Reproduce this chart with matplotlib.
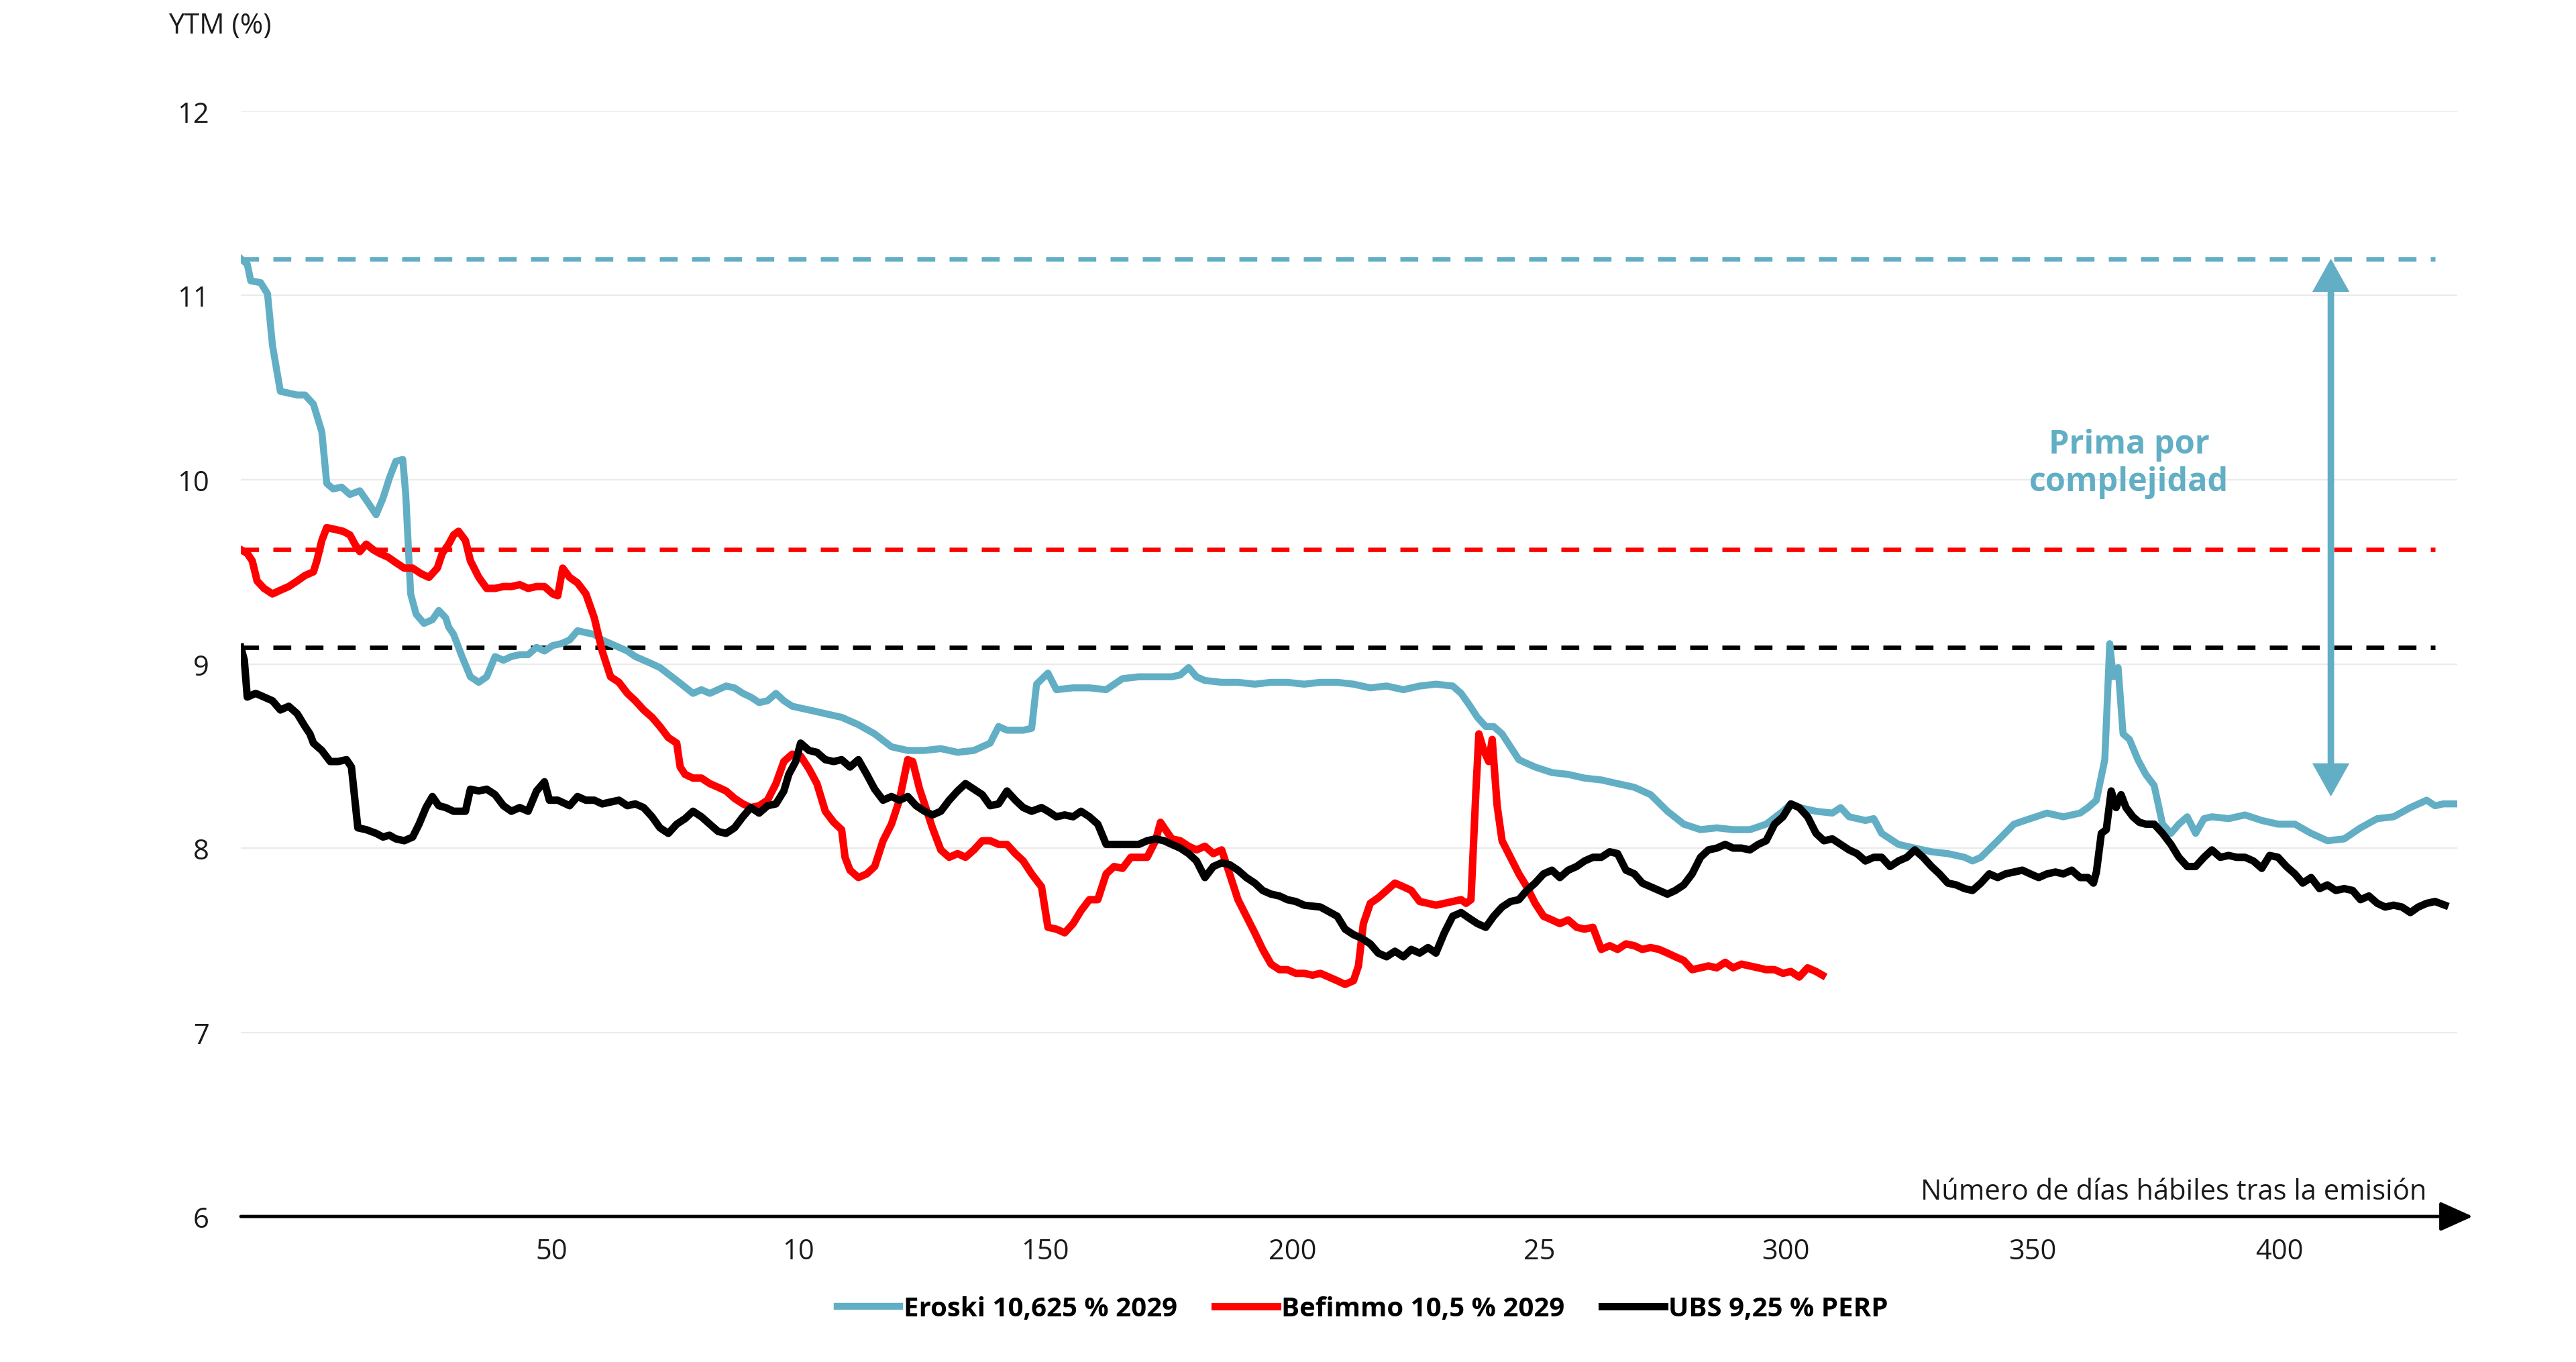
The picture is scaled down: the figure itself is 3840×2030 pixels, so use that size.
import matplotlib
matplotlib.use("Agg")
import matplotlib.pyplot as plt
from matplotlib.lines import Line2D
from matplotlib.patches import FancyArrowPatch

plt.rcParams['font.family'] = ['Open Sans', 'DejaVu Sans']

# ---------------- data (business days since issue, YTM %) ----------------
eroski_days = [0, 1.3, 2.0, 4.0, 5.4, 6.4, 8.0, 9.7, 11.4, 13.0, 14.7, 16.4, 17.4, 18.7, 20.4, 22.1,
               24.1, 25.4, 27.4, 28.8, 30.1, 31.4, 32.8, 33.4, 34.4, 35.5, 37.1, 38.8, 40.1, 41.5, 42.1,
               43.1, 44.8, 46.5, 48.2, 49.8, 51.5, 53.2, 54.8, 56.5, 58.2, 59.9, 61.5, 63.2, 64.9, 66.6,
               68.2, 69.9, 71.6, 73.2, 74.9, 76.6, 78.3, 79.9, 81.6, 83.3, 84.9, 88.3, 91.6, 93.3, 95.0,
               98.3, 100.0, 101.7, 103.3, 105.0, 106.7, 108.4, 110.0, 111.7, 115.1, 118.4, 121.7, 125.1,
               128.4, 131.8, 135.1, 138.5, 141.8, 145.2, 148.5, 151.8, 153.5, 155.2, 158.5, 160.2, 161.2,
               163.5, 165.2, 168.6, 171.9, 175.3, 178.6, 181.9, 185.3, 188.6, 190.3, 192.0, 193.6, 195.3,
               198.7, 202.0, 205.4, 208.7, 212.0, 215.4, 218.7, 222.1, 225.4, 228.8, 232.1, 235.5, 238.8,
               242.1, 245.5, 247.2, 248.8, 250.5, 252.2, 253.8, 255.5, 257.2, 258.9, 260.5, 262.2, 265.6,
               268.9, 272.2, 275.6, 278.9, 282.3, 285.6, 289.0, 292.3, 295.7, 299.0, 302.3, 305.7, 309.0,
               312.4, 314.0, 315.7, 319.1, 322.4, 324.1, 325.8, 329.1, 330.8, 332.4, 335.8, 339.1, 342.5,
               345.8, 349.2, 350.8, 352.5, 355.9, 359.2, 362.5, 365.9, 369.2, 372.6, 374.2, 375.9, 377.6,
               378.6, 379.3, 380.3, 381.3, 382.6, 384.3, 385.9, 387.6, 389.3, 391.0, 392.6, 394.3, 396.0,
               397.7, 399.3, 402.7, 406.0, 409.4, 412.7, 416.1, 419.4, 422.7, 426.1, 429.4, 432.8, 436.1,
               439.5, 442.8, 444.5, 446.2, 448.5]
eroski_ytm = [11.20, 11.17, 11.08, 11.07, 11.01, 10.73, 10.48, 10.47, 10.46, 10.46, 10.41, 10.26, 9.98, 9.95, 9.96, 9.92,
              9.94, 9.89, 9.81, 9.90, 10.01, 10.10, 10.11, 9.92, 9.38, 9.27, 9.22, 9.24, 9.29, 9.25, 9.20,
              9.16, 9.04, 8.93, 8.90, 8.93, 9.04, 9.02, 9.04, 9.05, 9.05, 9.09, 9.07, 9.10, 9.11, 9.13,
              9.18, 9.17, 9.16, 9.13, 9.11, 9.09, 9.07, 9.04, 9.02, 9.00, 8.98, 8.91, 8.84, 8.86, 8.84,
              8.88, 8.87, 8.84, 8.82, 8.79, 8.80, 8.84, 8.80, 8.77, 8.75, 8.73, 8.71, 8.67,
              8.62, 8.55, 8.53, 8.53, 8.54, 8.52, 8.53, 8.57, 8.66, 8.64, 8.64, 8.65, 8.89,
              8.95, 8.86, 8.87, 8.87, 8.86, 8.92, 8.93, 8.93, 8.93, 8.94, 8.98, 8.93, 8.91,
              8.90, 8.90, 8.89, 8.90, 8.90, 8.89, 8.90, 8.90, 8.89, 8.87, 8.88, 8.86, 8.88,
              8.89, 8.88, 8.84, 8.78, 8.71, 8.66, 8.66, 8.62, 8.55, 8.48, 8.46, 8.44, 8.41,
              8.40, 8.38, 8.37, 8.35, 8.33, 8.29, 8.20, 8.13, 8.10, 8.11, 8.10, 8.10, 8.13,
              8.20, 8.24, 8.22, 8.20, 8.19, 8.22, 8.17, 8.15, 8.16, 8.08, 8.02, 8.00, 7.98,
              7.97, 7.95, 7.93, 7.95, 8.04, 8.13, 8.16, 8.19, 8.17, 8.19, 8.22, 8.26, 8.48,
              9.11, 8.93, 8.98, 8.62, 8.59, 8.48, 8.40, 8.34, 8.13, 8.08, 8.13, 8.17, 8.08,
              8.16, 8.17, 8.16, 8.18, 8.15, 8.13, 8.13, 8.08, 8.04, 8.05, 8.11, 8.16, 8.17,
              8.22, 8.26, 8.23, 8.24, 8.24]

befimmo_days = [0, 1.3, 2.3, 3.3, 4.7, 6.4, 8.0, 9.7, 11.4, 13.0, 14.7, 15.4, 16.4, 17.4, 19.1, 20.7,
                22.1, 23.1, 24.1, 25.4, 26.8, 28.1, 29.8, 31.4, 33.1, 34.8, 36.5, 38.1, 39.8, 40.8, 42.1,
                43.1, 44.1, 45.5, 46.5, 48.2, 49.8, 51.5, 53.2, 54.8, 56.5, 58.2, 59.9, 61.5, 63.2, 64.2,
                65.2, 66.6, 68.2, 69.9, 71.6, 73.2, 74.9, 76.6, 78.3, 79.9, 81.6, 83.3, 84.9, 86.6, 88.3,
                89.0, 90.0, 91.6, 93.3, 95.0, 96.7, 98.3, 100.0, 101.7, 103.3, 105.0, 106.7, 108.4, 110.0,
                111.7, 113.4, 115.1, 116.7, 118.4, 120.1, 121.7, 122.4, 123.4, 125.1, 126.8, 128.4, 130.1,
                131.8, 133.4, 135.1, 136.1, 137.5, 138.5, 140.1, 141.8, 143.5, 145.2, 146.8, 148.5, 150.2,
                151.8, 153.5, 155.2, 156.9, 158.5, 160.2, 162.2, 163.5, 165.2, 166.9, 168.6, 170.2, 171.9,
                173.6, 175.3, 176.9, 178.6, 180.3, 181.9, 183.6, 185.3, 186.3, 187.3, 188.6, 190.3, 192.0,
                193.6, 195.3, 197.0, 198.7, 200.3, 202.0, 203.7, 205.4, 207.0, 208.7, 210.4, 212.0, 213.7,
                215.4, 217.1, 218.7, 220.4, 222.1, 223.7, 225.4, 226.4, 227.4, 228.8, 230.4, 232.1, 233.8,
                235.5, 237.1, 238.8, 240.5, 242.1, 243.8, 245.5, 247.2, 248.2, 249.2, 250.2, 250.8, 251.8,
                252.8, 253.5, 254.5, 255.5, 257.2, 258.9, 260.5, 262.2, 263.9, 265.6, 267.2, 268.9, 270.6,
                272.2, 273.9, 275.6, 277.3, 278.9, 280.6, 282.3, 283.9, 285.6, 287.3, 289.0, 290.6, 292.3,
                294.0, 295.7, 297.3, 299.0, 300.7, 302.3, 304.0, 305.7, 307.4, 309.0, 310.7, 312.4, 314.0,
                315.7, 317.4, 319.1, 320.4]
befimmo_ytm = [9.62, 9.60, 9.56, 9.45, 9.41, 9.38, 9.40, 9.42, 9.45, 9.48, 9.50, 9.56, 9.67, 9.74, 9.73, 9.72,
               9.70, 9.65, 9.61, 9.65, 9.62, 9.60, 9.58, 9.55, 9.52, 9.52, 9.49, 9.47, 9.52, 9.60, 9.65,
               9.70, 9.72, 9.67, 9.56, 9.47, 9.41, 9.41, 9.42, 9.42, 9.43, 9.41, 9.42, 9.42, 9.38, 9.37,
               9.52, 9.47, 9.44, 9.38, 9.25, 9.07, 8.93, 8.90, 8.84, 8.80, 8.75, 8.71, 8.66, 8.60, 8.57,
               8.44, 8.40, 8.38, 8.38, 8.35, 8.33, 8.31, 8.27, 8.24, 8.22, 8.23, 8.26, 8.35, 8.47,
               8.51, 8.50, 8.43, 8.35, 8.20, 8.14, 8.10, 7.95, 7.88, 7.84, 7.86, 7.90, 8.04,
               8.13, 8.26, 8.48, 8.47, 8.32, 8.24, 8.11, 7.99, 7.95, 7.97, 7.95, 7.99, 8.04,
               8.04, 8.02, 8.02, 7.97, 7.93, 7.86, 7.79, 7.57, 7.56, 7.54, 7.59, 7.66, 7.72,
               7.72, 7.86, 7.90, 7.89, 7.95, 7.95, 7.95, 8.04, 8.14, 8.10, 8.05, 8.04, 8.01,
               7.99, 8.01, 7.97, 7.99, 7.86, 7.72, 7.63, 7.54, 7.45, 7.37, 7.34, 7.34, 7.32,
               7.32, 7.31, 7.32, 7.30, 7.28, 7.26, 7.28, 7.36, 7.59, 7.70, 7.73, 7.77, 7.81,
               7.79, 7.77, 7.71, 7.70, 7.69, 7.70, 7.71, 7.72, 7.70, 7.72, 8.31, 8.62, 8.53,
               8.47, 8.59, 8.23, 8.04, 7.95, 7.86, 7.79, 7.70, 7.63, 7.61, 7.59, 7.61, 7.57,
               7.56, 7.57, 7.45, 7.47, 7.45, 7.48, 7.47, 7.45, 7.46, 7.45, 7.43, 7.41, 7.39,
               7.34, 7.35, 7.36, 7.35, 7.38, 7.35, 7.37, 7.36, 7.35, 7.34, 7.34, 7.32, 7.33,
               7.30, 7.35, 7.33, 7.31]

ubs_days = [0, 0.7, 1.3, 3.0, 4.7, 6.4, 8.0, 9.7, 11.4, 13.0, 14.0, 14.7, 16.4, 18.1, 19.7, 21.4,
            22.4, 23.7, 25.4, 27.4, 28.8, 30.1, 31.4, 33.1, 34.8, 36.1, 37.5, 38.8, 40.1, 41.5, 43.1,
            45.5, 46.5, 48.2, 49.8, 51.5, 53.2, 54.8, 56.5, 58.2, 59.9, 61.5, 62.5, 64.2, 66.6, 68.2,
            69.9, 71.6, 73.2, 74.9, 76.6, 78.3, 79.9, 81.6, 83.3, 84.9, 86.6, 88.3, 90.0, 91.6, 93.3,
            95.0, 96.7, 98.3, 100.0, 101.7, 103.3, 105.0, 106.7, 108.4, 110.0, 111.0, 112.4, 113.4,
            115.1, 116.7, 118.4, 120.1, 121.7, 123.4, 125.1, 126.8, 128.4, 130.1, 131.8, 133.4, 135.1,
            136.8, 138.5, 140.1, 141.8, 143.5, 145.2, 146.8, 148.5, 150.2, 151.8, 153.5, 155.2, 156.9,
            158.5, 160.2, 162.2, 163.5, 165.2, 166.9, 168.6, 170.2, 171.9, 173.6, 175.3, 178.6, 181.9,
            183.6, 185.3, 187.0, 188.6, 190.3, 192.0, 193.6, 195.3, 197.0, 198.7, 200.3, 202.0, 203.7,
            205.4, 207.0, 208.7, 210.4, 212.0, 213.7, 215.4, 218.7, 222.1, 223.7, 225.4, 227.1, 228.8,
            230.4, 232.1, 233.8, 235.5, 237.1, 238.8, 240.5, 242.1, 243.8, 245.5, 247.2, 248.8, 250.5,
            252.2, 253.8, 255.5, 257.2, 258.9, 260.5, 262.2, 263.9, 265.6, 267.2, 268.9, 270.6, 272.2,
            273.9, 275.6, 277.3, 278.9, 280.6, 282.3, 283.9, 285.6, 287.3, 289.0, 290.6, 292.3, 294.0,
            295.7, 297.3, 299.0, 300.7, 302.3, 304.0, 305.7, 307.4, 309.0, 310.7, 312.4, 314.0, 315.7,
            317.4, 319.1, 320.7, 322.4, 324.1, 325.8, 327.4, 329.1, 330.8, 332.4, 334.1, 335.8, 337.5,
            339.1, 340.8, 342.5, 344.1, 345.8, 347.5, 349.2, 350.8, 352.5, 354.2, 355.9, 357.5, 359.2,
            360.9, 362.5, 364.2, 365.9, 367.6, 369.2, 370.9, 372.6, 374.2, 375.3, 375.9, 376.9, 377.9,
            378.9, 379.9, 380.9, 381.9, 383.3, 384.6, 385.9, 387.6, 389.3, 391.0, 392.6, 394.3, 396.0,
            397.7, 399.3, 401.0, 402.7, 404.3, 406.0, 407.7, 409.4, 411.0, 412.7, 414.4, 416.1, 417.7,
            419.4, 421.1, 422.7, 424.4, 426.1, 427.8, 429.4, 431.1, 432.8, 434.4, 436.1, 437.8, 439.5,
            441.1, 442.8, 444.5, 446.5]
ubs_ytm = [9.09, 9.02, 8.82, 8.84, 8.82, 8.80, 8.75, 8.77, 8.73, 8.66, 8.62, 8.57, 8.53, 8.47, 8.47, 8.48,
           8.44, 8.11, 8.10, 8.08, 8.06, 8.07, 8.05, 8.04, 8.06, 8.13, 8.22, 8.28, 8.23, 8.22, 8.20,
           8.20, 8.32, 8.31, 8.32, 8.29, 8.23, 8.20, 8.22, 8.20, 8.31, 8.36, 8.26, 8.26, 8.23, 8.28,
           8.26, 8.26, 8.24, 8.25, 8.26, 8.23, 8.24, 8.22, 8.17, 8.11, 8.08, 8.13, 8.16, 8.20, 8.17,
           8.13, 8.09, 8.08, 8.11, 8.17, 8.22, 8.19, 8.23, 8.24, 8.31, 8.40, 8.47, 8.57,
           8.53, 8.52, 8.48, 8.47, 8.48, 8.44, 8.48, 8.40, 8.32, 8.26, 8.28, 8.26, 8.28,
           8.23, 8.20, 8.18, 8.20, 8.26, 8.31, 8.35, 8.32, 8.29, 8.23, 8.24, 8.31, 8.26,
           8.22, 8.20, 8.22, 8.20, 8.17, 8.18, 8.17, 8.20, 8.17, 8.13, 8.02, 8.02, 8.02,
           8.04, 8.05, 8.04, 8.02, 8.00, 7.97, 7.93, 7.84, 7.90, 7.92, 7.91, 7.88, 7.84,
           7.81, 7.77, 7.75, 7.74, 7.72, 7.71, 7.69, 7.68, 7.63, 7.56, 7.53, 7.51, 7.48,
           7.43, 7.41, 7.44, 7.41, 7.45, 7.43, 7.46, 7.43, 7.54, 7.63, 7.65, 7.62, 7.59,
           7.57, 7.63, 7.68, 7.71, 7.72, 7.77, 7.81, 7.86, 7.88, 7.84, 7.88, 7.90, 7.93,
           7.95, 7.95, 7.98, 7.97, 7.88, 7.86, 7.81, 7.79, 7.77, 7.75, 7.77, 7.80, 7.86,
           7.95, 7.99, 8.00, 8.02, 8.00, 8.00, 7.99, 8.02, 8.04, 8.13, 8.17, 8.24, 8.22,
           8.17, 8.08, 8.04, 8.05, 8.02, 7.99, 7.97, 7.93, 7.95, 7.95, 7.90, 7.93, 7.95,
           7.99, 7.95, 7.90, 7.86, 7.81, 7.80, 7.78, 7.77, 7.81, 7.86, 7.84, 7.86, 7.87,
           7.88, 7.86, 7.84, 7.86, 7.87, 7.86, 7.88, 7.84, 7.84, 7.81, 7.87, 8.08, 8.10,
           8.31, 8.22, 8.29, 8.22, 8.17, 8.14, 8.13, 8.13, 8.08, 8.02, 7.95, 7.90, 7.90,
           7.95, 7.99, 7.95, 7.96, 7.95, 7.95, 7.93, 7.89, 7.96, 7.95, 7.90, 7.86, 7.81,
           7.84, 7.78, 7.80, 7.77, 7.78, 7.77, 7.72, 7.74, 7.70, 7.68, 7.69, 7.68, 7.65,
           7.68, 7.70, 7.71, 7.69]

# issue yields (dashed reference lines)
eroski_issue = 11.20
befimmo_issue = 9.62
ubs_issue = 9.09
issue_line_end = 444.5

# complexity premium arrow
premium_day = 423.4
premium_top = 11.20
premium_bottom = 8.28
premium_label = "Prima por\ncomplejidad"

series_names = ["Eroski 10,625 % 2029", "Befimmo 10,5 % 2029", "UBS 9,25 % PERP"]
y_ticks = [6, 7, 8, 9, 10, 11, 12]
x_tick_values = [50, 100, 150, 200, 250, 300, 350, 400]
x_tick_labels = ["50", "10", "150", "200", "25", "300", "350", "400"]
x_label_offset = 13  # labels sit 13 business days to the right in the original

TEAL = "#62AEC5"
RED = "#FF0000"
BLACK = "#000000"

fig = plt.figure(figsize=(38.4, 20.31), dpi=100)
ax = fig.add_axes([0.0935, 0.1068, 0.8604, 0.811])
ax.set_xlim(0, 449)
ax.set_ylim(6, 12)

for s in ax.spines.values():
    s.set_visible(False)

ax.set_yticks(y_ticks)
ax.set_yticklabels([str(v) for v in y_ticks])
ax.yaxis.grid(True, color="#EAEAEA", lw=1.6)
ax.set_axisbelow(True)
ax.set_xticks([v + x_label_offset for v in x_tick_values])
ax.set_xticklabels(x_tick_labels)
ax.tick_params(axis="both", length=0, labelsize=30, colors="#1a1a1a")
ax.tick_params(axis="y", pad=34)
ax.tick_params(axis="x", pad=22)

# dashed issue-yield lines
dash_kw = dict(lw=4.8, dashes=(4.0, 3.2), zorder=2)
ax.plot([0, issue_line_end], [eroski_issue, eroski_issue], color=TEAL, **dash_kw)
ax.plot([0, issue_line_end], [befimmo_issue, befimmo_issue], color=RED, **dash_kw)
ax.plot([0, issue_line_end], [ubs_issue, ubs_issue], color=BLACK, **dash_kw)

# premium arrow
arr = FancyArrowPatch((premium_day, premium_top), (premium_day, premium_bottom),
                      arrowstyle="<|-|>,head_length=1.25,head_width=0.7", mutation_scale=20,
                      color=TEAL, lw=7, shrinkA=0, shrinkB=0, joinstyle="miter", zorder=3)
ax.add_patch(arr)
ax.text(382.5, 10.09, premium_label, color=TEAL, fontsize=35, fontweight="bold",
        ha="center", va="center", linespacing=1.2, zorder=5)

# data lines
lw_teal, lw_other = 7.5, 8
ax.plot(eroski_days, eroski_ytm, color=TEAL, lw=lw_teal, zorder=4, solid_joinstyle="round")
ax.plot(befimmo_days, befimmo_ytm, color=RED, lw=lw_other, zorder=4, solid_joinstyle="round")
ax.plot(ubs_days, ubs_ytm, color=BLACK, lw=lw_other, zorder=4, solid_joinstyle="round")

# x axis with arrow
ax.annotate("", xy=(1.007, 0), xytext=(0, 0), xycoords="axes fraction",
            arrowprops=dict(arrowstyle="-|>,head_length=1.0,head_width=0.45", lw=3.5,
                            color="black", mutation_scale=30, shrinkA=0, shrinkB=0),
            annotation_clip=False)
ax.text(442.8, 6.135, "Número de días hábiles tras la emisión", fontsize=30, ha="right",
        va="center", color="#1a1a1a")

fig.text(0.0654, 0.9808, "YTM (%)", fontsize=30, ha="left", va="center", color="#1a1a1a")

handles = [Line2D([0], [0], color=c, lw=w) for c, w in ((TEAL, lw_teal), (RED, lw_other), (BLACK, lw_other))]
fig.legend(handles, series_names, loc="center", bbox_to_anchor=(0.529, 0.039), ncol=3,
           frameon=False, prop=dict(family=["Open Sans", "DejaVu Sans"], weight="bold", size=29),
           handlelength=2.3, handletextpad=0.15, columnspacing=1.4)

fig.savefig("out.png", dpi=100, facecolor="white")
